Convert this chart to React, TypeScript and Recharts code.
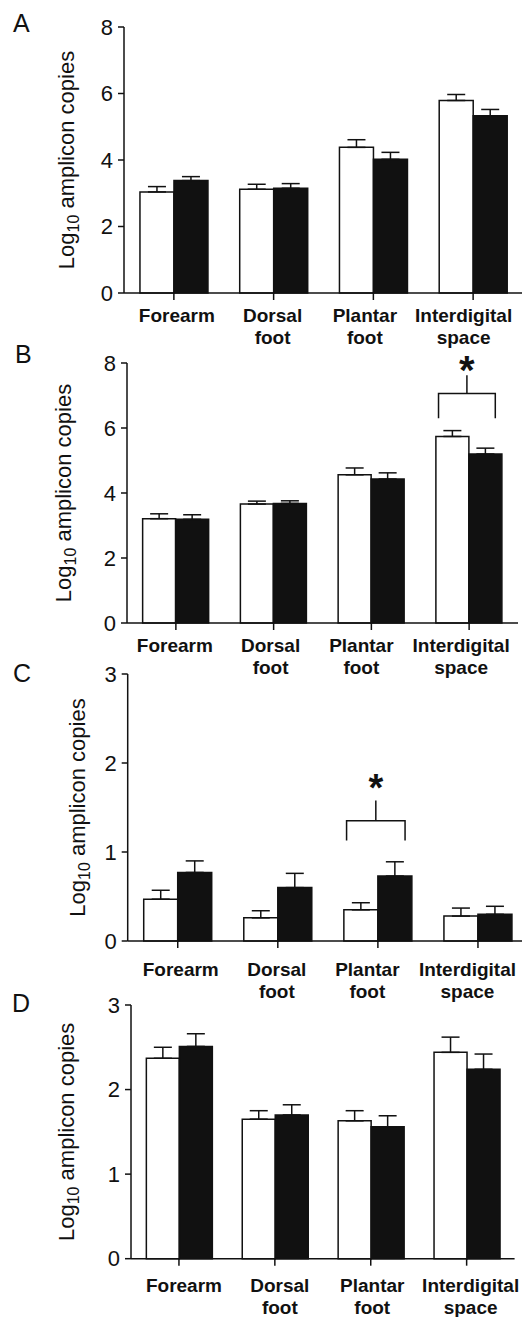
import { Bar, BarChart, ErrorBar, LabelList, XAxis, YAxis } from "recharts";

const categories = ["Forearm", "Dorsal foot", "Plantar foot", "Interdigital space"];

const aOpen = [3.04, 3.12, 4.38, 5.79];
const aOpenErr = [0.16, 0.15, 0.23, 0.18];
const aFilled = [3.38, 3.15, 4.02, 5.33];
const aFilledErr = [0.12, 0.14, 0.21, 0.19];

const bOpen = [3.21, 3.66, 4.56, 5.74];
const bOpenErr = [0.15, 0.09, 0.21, 0.18];
const bFilled = [3.19, 3.68, 4.43, 5.2];
const bFilledErr = [0.14, 0.08, 0.19, 0.18];

const cOpen = [0.47, 0.26, 0.35, 0.28];
const cOpenErr = [0.1, 0.08, 0.08, 0.09];
const cFilled = [0.77, 0.6, 0.73, 0.3];
const cFilledErr = [0.13, 0.16, 0.16, 0.09];

const dOpen = [2.37, 1.65, 1.63, 2.44];
const dOpenErr = [0.13, 0.1, 0.12, 0.18];
const dFilled = [2.51, 1.7, 1.56, 2.24];
const dFilledErr = [0.15, 0.12, 0.13, 0.18];

const ticksHigh = [0, 2, 4, 6, 8];
const ticksLow = [0, 1, 2, 3];

// [category index, leg bottom, bracket, stem top, star centre]
const sigB = [3, 6.3, 7.06, 7.62, 7.98];
const sigC = [2, 1.13, 1.35, 1.58, 1.79];

const FONT = "Arial, 'Liberation Sans', Helvetica, sans-serif";
const INK = "#111";
const PAD_TOP = 40;
const AXIS_H = 70;
const CHART_W = 530;

type Sig = number[] | null;

type PanelDef = {
  letter: string;
  letterX: number;
  letterY: number;
  open: number[];
  openErr: number[];
  filled: number[];
  filledErr: number[];
  ticks: number[];
  sig: Sig;
  top: number;
  bottom: number;
  left: number;
  right: number;
  labelX: number;
  catOffset: number;
  catShift: number[];
  starSize: number;
};

const panels: PanelDef[] = [
  {
    letter: "A", letterX: 13, letterY: 32,
    open: aOpen, openErr: aOpenErr, filled: aFilled, filledErr: aFilledErr,
    ticks: ticksHigh, sig: null,
    top: 27, bottom: 293, left: 124, right: 523,
    labelX: 74, catOffset: 29, catShift: [3, -1, -8.5, -9.5], starSize: 40,
  },
  {
    letter: "B", letterX: 15, letterY: 363,
    open: bOpen, openErr: bOpenErr, filled: bFilled, filledErr: bFilledErr,
    ticks: ticksHigh, sig: sigB,
    top: 362.7, bottom: 622.7, left: 127, right: 518,
    labelX: 71, catOffset: 29, catShift: [-1, -3, -10, -8], starSize: 40,
  },
  {
    letter: "C", letterX: 13, letterY: 682,
    open: cOpen, openErr: cOpenErr, filled: cFilled, filledErr: cFilledErr,
    ticks: ticksLow, sig: sigC,
    top: 674, bottom: 941, left: 127.7, right: 528,
    labelX: 85, catOffset: 35, catShift: [3, -1, -10.5, -10.5], starSize: 38,
  },
  {
    letter: "D", letterX: 12, letterY: 1012,
    open: dOpen, openErr: dOpenErr, filled: dFilled, filledErr: dFilledErr,
    ticks: ticksLow, sig: null,
    top: 1005, bottom: 1258.7, left: 131, right: 514.6,
    labelX: 74, catOffset: 33, catShift: [5, 5, 1.5, 4], starSize: 38,
  },
];

function CategoryTick(props: any) {
  const { x, payload, axisY, offset, shift } = props;
  const words = String(payload.value).split(" ");
  const dx = shift[payload.index] ?? 0;
  return (
    <g>
      {words.map((w: string, i: number) => (
        <text
          key={w}
          x={x + dx}
          y={axisY + offset + i * 22}
          textAnchor="middle"
          fontFamily={FONT}
          fontWeight="bold"
          fontSize={19}
          fill={INK}
        >
          {w}
        </text>
      ))}
    </g>
  );
}

function makeBracket(sig: Sig, starSize: number) {
  return (props: any) => {
    if (!sig || props.index !== sig[0]) return null;
    const vb = props.viewBox ?? props;
    const { x, y, width, height } = vb;
    const value = Number(props.value);
    if (!value || !height) return null;
    const base = y + height;
    const k = height / value;
    const toY = (v: number) => base - v * k;
    const left = x - width + width * 0.08;
    const right = x + width * 0.8;
    const mid = (left + right) / 2;
    const [, legV, barV, stemV, starV] = sig;
    return (
      <g stroke={INK} strokeWidth={1.5} fill="none">
        <polyline points={`${left},${toY(legV)} ${left},${toY(barV)} ${right},${toY(barV)} ${right},${toY(legV)}`} />
        <line x1={mid} y1={toY(barV)} x2={mid} y2={toY(stemV)} />
        <text
          x={mid}
          y={toY(starV) + starSize * 0.5}
          textAnchor="middle"
          fontFamily={FONT}
          fontWeight="bold"
          fontSize={starSize}
          fill={INK}
          stroke="none"
        >
          *
        </text>
      </g>
    );
  };
}

function Panel({ p }: { p: PanelDef }) {
  const data = categories.map((name, i) => ({
    name,
    open: p.open[i],
    openErr: [0, p.openErr[i]],
    filled: p.filled[i],
    filledErr: [0, p.filledErr[i]],
  }));
  const plotH = p.bottom - p.top;
  const height = PAD_TOP + plotH + AXIS_H;
  const axisY = PAD_TOP + plotH;
  const max = p.ticks[p.ticks.length - 1];
  const cy = PAD_TOP + plotH / 2;

  return (
    <div style={{ position: "absolute", left: 0, top: p.top - PAD_TOP }}>
      <BarChart
        width={CHART_W}
        height={height}
        data={data}
        margin={{ top: PAD_TOP, right: CHART_W - p.right, bottom: 0, left: 0 }}
        barCategoryGap="16%"
        barGap={0}
      >
        <XAxis
          dataKey="name"
          height={AXIS_H}
          axisLine={{ stroke: INK, strokeWidth: 1.5 }}
          tickLine={{ stroke: INK, strokeWidth: 1.5 }}
          tickSize={7}
          interval={0}
          tick={(t: any) => (
            <CategoryTick {...t} axisY={axisY} offset={p.catOffset} shift={p.catShift} />
          )}
        />
        <YAxis
          type="number"
          width={p.left}
          domain={[0, max]}
          ticks={p.ticks}
          interval={0}
          axisLine={{ stroke: INK, strokeWidth: 1.5 }}
          tickLine={{ stroke: INK, strokeWidth: 1.5 }}
          tickSize={6}
          tickMargin={5}
          tick={{ fontFamily: FONT, fontSize: 22, fill: INK }}
          label={{
            content: () => (
              <text
                x={p.labelX}
                y={cy}
                transform={`rotate(-90 ${p.labelX} ${cy})`}
                textAnchor="middle"
                fontFamily={FONT}
                fontSize={22}
                fill={INK}
              >
                Log
                <tspan fontSize={16} dy={5}>10</tspan>
                <tspan dy={-5}> amplicon copies</tspan>
              </text>
            ),
          }}
        />
        <Bar dataKey="open" fill="#fff" stroke={INK} strokeWidth={1.5} isAnimationActive={false}>
          <ErrorBar dataKey="openErr" direction="y" width={9} stroke={INK} strokeWidth={1.5} />
        </Bar>
        <Bar dataKey="filled" fill={INK} stroke={INK} strokeWidth={1.5} isAnimationActive={false}>
          <ErrorBar dataKey="filledErr" direction="y" width={9} stroke={INK} strokeWidth={1.5} />
          <LabelList dataKey="filled" content={makeBracket(p.sig, p.starSize)} />
        </Bar>
      </BarChart>
    </div>
  );
}

export default function App() {
  return (
    <div
      style={{
        position: "absolute",
        left: 0,
        top: 0,
        width: 522,
        height: 1317,
        overflow: "hidden",
        background: "#fff",
      }}
    >
      {panels.map((p) => (
        <Panel key={p.letter} p={p} />
      ))}
      <svg width={522} height={1317} style={{ position: "absolute", left: 0, top: 0, pointerEvents: "none" }}>
        {panels.map((p) => (
          <text key={p.letter} x={p.letterX} y={p.letterY} fontFamily={FONT} fontSize={25} fill={INK}>
            {p.letter}
          </text>
        ))}
      </svg>
    </div>
  );
}
